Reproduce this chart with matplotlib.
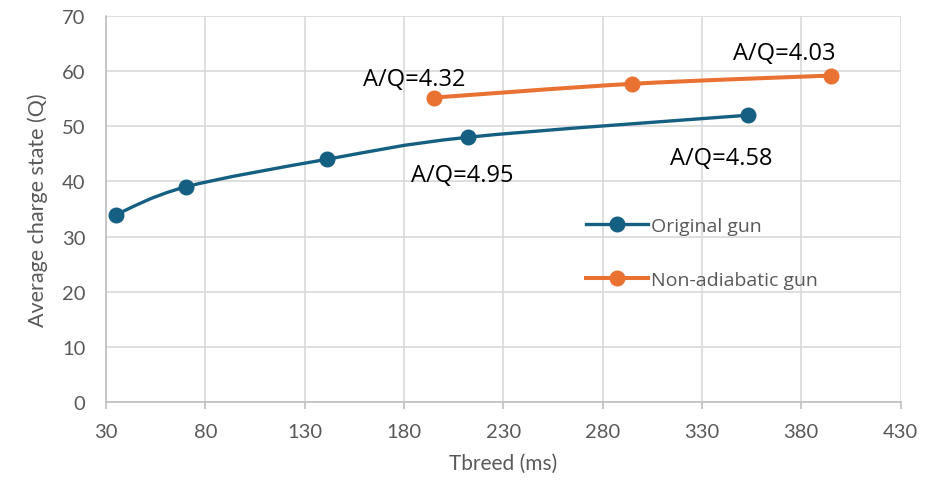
import matplotlib.pyplot as plt
from matplotlib.path import Path
from matplotlib.patches import PathPatch

plt.rcParams['font.family'] = ['Lato', 'DejaVu Sans']

# Input data
orig_x = [35, 70, 141, 212, 353]
orig_y = [34, 39, 44, 48, 52]
nonad_x = [195, 295, 395]
nonad_y = [55.2, 57.7, 59.2]
orig_labels = {3: 'A/Q=4.95', 4: 'A/Q=4.58'}
nonad_labels = {0: 'A/Q=4.32', 2: 'A/Q=4.03'}
xticks = [30, 80, 130, 180, 230, 280, 330, 380, 430]
yticks = [0, 10, 20, 30, 40, 50, 60, 70]

blue = '#156082'
orange = '#E97132'
gray = '#595959'


def smooth_path(xs, ys):
    # Catmull-Rom style bezier, like Excel's smoothed line
    pts = list(zip(xs, ys))
    verts = [pts[0]]
    codes = [Path.MOVETO]
    n = len(pts)
    for i in range(n - 1):
        p0 = pts[i - 1] if i > 0 else pts[i]
        p1 = pts[i]
        p2 = pts[i + 1]
        p3 = pts[i + 2] if i + 2 < n else pts[i + 1]
        c1 = (p1[0] + (p2[0] - p0[0]) / 6, p1[1] + (p2[1] - p0[1]) / 6)
        c2 = (p2[0] - (p3[0] - p1[0]) / 6, p2[1] - (p3[1] - p1[1]) / 6)
        verts += [c1, c2, p2]
        codes += [Path.CURVE4] * 3
    return Path(verts, codes)


fig = plt.figure(figsize=(9.39, 4.85), dpi=100)
ax = fig.add_axes([0.113, 0.169, 0.846, 0.796])

ax.add_patch(PathPatch(smooth_path(orig_x, orig_y), fill=False, ec=blue, lw=2.4, zorder=3))
ax.add_patch(PathPatch(smooth_path(nonad_x, nonad_y), fill=False, ec=orange, lw=2.9, zorder=3))
ax.plot(orig_x, orig_y, 'o', color=blue, ms=10.5, zorder=4)
ax.plot(nonad_x, nonad_y, 'o', color=orange, ms=10.5, zorder=4)

# legend proxies
ax.plot([], [], '-o', color=blue, lw=2.4, ms=10.5, label='Original gun')
ax.plot([], [], '-o', color=orange, lw=2.9, ms=10.5, label='Non-adiabatic gun')

ann_font = ['Open Sans', 'DejaVu Sans']
offsets = {('o', 3): (-5, -38), ('o', 4): (-26, -43), ('n', 0): (-20, 19), ('n', 2): (-47, 23)}
for i, lab in orig_labels.items():
    ax.annotate(lab, (orig_x[i], orig_y[i]), xytext=offsets[('o', i)], textcoords='offset pixels',
                ha='center', va='center', fontsize=17, family=ann_font, color='black')
for i, lab in nonad_labels.items():
    ax.annotate(lab, (nonad_x[i], nonad_y[i]), xytext=offsets[('n', i)], textcoords='offset pixels',
                ha='center', va='center', fontsize=17, family=ann_font, color='black')

ax.set_xlim(30, 430)
ax.set_ylim(0, 70)
ax.set_xticks(xticks)
ax.set_yticks(yticks)
ax.grid(True, color='#D9D9D9', lw=1.2)
ax.set_axisbelow(True)
for s in ['top', 'right']:
    ax.spines[s].set_visible(False)
for s in ['left', 'bottom']:
    ax.spines[s].set_color('#BFBFBF')
    ax.spines[s].set_linewidth(1.2)
ax.tick_params(axis='x', colors='#BFBFBF', labelcolor=gray, labelsize=14.5, length=5, width=1.2, pad=10)
ax.tick_params(axis='y', length=0, labelcolor=gray, labelsize=14.5, pad=15)
ax.set_xlabel('Tbreed (ms)', fontsize=15, color=gray, labelpad=9)
ax.set_ylabel('Average charge state (Q)', fontsize=15.5, color=gray, labelpad=10)

ax.legend(loc='upper left', bbox_to_anchor=(0.582, 0.525), frameon=False,
          labelspacing=1.85, handlelength=3.2, handletextpad=0.15, labelcolor=gray,
          prop={'family': ann_font, 'size': 14})

fig.savefig('out.png', dpi=100)
